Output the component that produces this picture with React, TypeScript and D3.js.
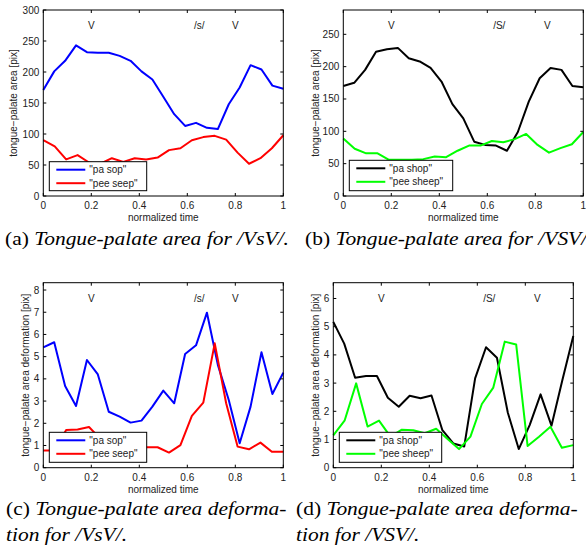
import React from 'react';
import * as d3 from 'd3';

// normalized time ticks shared by all four panels
const timeTicks = [0, 0.2, 0.4, 0.6, 0.8, 1];

// (a) tongue-palate area, /VsV/
const areaPaSop = [171, 201, 218, 243, 232, 231, 231, 226, 218, 201, 188, 160, 132, 113, 118, 110, 108, 148, 175, 211, 204, 178, 173];
const areaPeeSeep = [90, 80, 59, 66, 54, 52, 61, 55, 61, 59, 62, 74, 77, 90, 95, 97, 91, 70, 52, 61, 77, 98];
const areaTicksA = [0, 50, 100, 150, 200, 250, 300];

// (b) tongue-palate area, /VSV/
const areaPaShop = [170, 175, 195, 223, 227, 229, 213, 208, 198, 177, 142, 120, 84, 79, 78, 70, 99, 146, 182, 198, 195, 170, 168];
const areaPeeSheep = [89, 73, 66, 66, 56, 56, 56, 57, 61, 60, 70, 78, 78, 85, 83, 88, 96, 79, 67, 74, 80, 99];
const areaTicksB = [0, 50, 100, 150, 200, 250];

// (c) deformation, /VsV/
const deformPaSop = [5.42, 5.65, 3.68, 2.78, 4.85, 4.2, 2.52, 2.3, 2.03, 2.12, 2.75, 3.47, 2.9, 5.12, 5.51, 6.98, 4.63, 3.05, 1.1, 2.75, 5.2, 3.32, 4.28];
const deformPeeSeep = [0.77, 0.77, 1.7, 1.72, 1.83, 1.3, 1.0, 0.95, 0.9, 0.92, 0.92, 0.68, 1.02, 2.33, 2.93, 5.6, 2.9, 0.95, 0.83, 1.13, 0.72, 0.72];
const deformTicksC = [0, 1, 2, 3, 4, 5, 6, 7, 8];

// (d) deformation, /VSV/
const deformPaShop = [5.17, 4.4, 3.19, 3.25, 3.25, 2.48, 2.16, 2.55, 2.46, 2.56, 1.33, 0.86, 0.75, 3.17, 4.27, 3.9, 1.95, 0.66, 1.51, 2.6, 1.49, 3.11, 4.67];
const deformPeeSheep = [1.15, 1.68, 2.99, 1.46, 1.67, 1.1, 1.35, 1.33, 1.22, 1.38, 1.02, 0.66, 1.1, 2.26, 2.84, 4.47, 4.37, 0.77, 1.1, 1.45, 0.71, 0.8];
const deformTicksD = [0, 1, 2, 3, 4, 5, 6];

const notesS = ['V', '/s/', 'V'];
const notesSPos = [0.2, 0.65, 0.8];
const notesSh = ['V', '/S/', 'V'];
const notesShPos = [0.2, 0.65, 0.85];

const SANS = 'Liberation Sans, Arial, sans-serif';
const SERIF = 'Liberation Serif, Times New Roman, serif';

type Series = { values: number[]; color: string; label: string };

function Panel(props: {
  x0: number; x1: number; y0: number; y1: number;
  yMax: number; yTicks: number[]; yLabel: string; yLabelX: number;
  series: Series[]; notes: string[]; notePos: number[];
  legend: { x: number; y: number; w: number; h: number };
}) {
  const { x0, x1, y0, y1, yMax, yTicks, yLabel, yLabelX, series, notes, notePos, legend } = props;
  const x = d3.scaleLinear().domain([0, 1]).range([x0, x1]);
  const y = d3.scaleLinear().domain([0, yMax]).range([y1, y0]);
  const tk = 3;

  return (
    <g>
      {series.map((s, k) => {
        const n = s.values.length;
        // frames spread evenly over normalized time
        const line = d3.line<number>()
          .x((d, i) => x(i / (n - 1)))
          .y(d => y(d));
        return <path key={k} d={line(s.values) || ''} fill="none" stroke={s.color} strokeWidth={2} strokeLinejoin="round" />;
      })}
      <rect x={x0} y={y0} width={x1 - x0} height={y1 - y0} fill="none" stroke="#000" strokeWidth={1} />
      {timeTicks.map(t => (
        <g key={'xt' + t}>
          <line x1={x(t)} x2={x(t)} y1={y1} y2={y1 - tk} stroke="#000" />
          <line x1={x(t)} x2={x(t)} y1={y0} y2={y0 + tk} stroke="#000" />
          <text x={x(t)} y={y1 + 13} textAnchor="middle" fontFamily={SANS} fontSize={10} fill="#222">{t}</text>
        </g>
      ))}
      {yTicks.map(v => (
        <g key={'yt' + v}>
          <line x1={x0} x2={x0 + tk} y1={y(v)} y2={y(v)} stroke="#000" />
          <line x1={x1} x2={x1 - tk} y1={y(v)} y2={y(v)} stroke="#000" />
          <text x={x0 - 4} y={y(v) + 3.5} textAnchor="end" fontFamily={SANS} fontSize={10} fill="#222">{v}</text>
        </g>
      ))}
      <text x={(x0 + x1) / 2} y={y1 + 25} textAnchor="middle" fontFamily={SANS} fontSize={10} fill="#222">normalized time</text>
      <text transform={`translate(${yLabelX},${(y0 + y1) / 2}) rotate(-90)`} textAnchor="middle" dy="0.35em"
        fontFamily={SANS} fontSize={10} fill="#222">{yLabel}</text>
      {notes.map((s, i) => (
        <text key={'n' + i} x={x(notePos[i])} y={y0 + 19} textAnchor="middle" fontFamily={SANS} fontSize={10} fill="#222">{s}</text>
      ))}
      <rect x={legend.x} y={legend.y} width={legend.w} height={legend.h} fill="#fff" stroke="#000" strokeWidth={1} />
      {series.map((s, k) => {
        const ly = legend.y + 8 + k * 13.5;
        return (
          <g key={'lg' + k}>
            <line x1={legend.x + 7} x2={legend.x + 36} y1={ly} y2={ly} stroke={s.color} strokeWidth={2} />
            <text x={legend.x + 40} y={ly + 3.5} fontFamily={SANS} fontSize={10} fill="#222">{s.label}</text>
          </g>
        );
      })}
    </g>
  );
}

function Caption(props: { x: number; y: number; tag: string; lines: string[] }) {
  return (
    <g transform={`translate(${props.x},${props.y}) scale(1.13,1)`}>
      {props.lines.map((l, i) => (
        <text key={i} x={0} y={i * 26} fontFamily={SERIF} fontSize={19} fill="#000">
          {i === 0 ? <tspan>{props.tag} </tspan> : null}
          <tspan fontStyle="italic">{l}</tspan>
        </text>
      ))}
    </g>
  );
}

export default function App() {
  return (
    <svg width={586} height={550} style={{ position: 'absolute', left: 0, top: 0, background: '#fff' }}>
      <rect width={586} height={550} fill="#fff" />
      <Panel x0={43.3} x1={283.3} y0={10} y1={196} yMax={300} yTicks={areaTicksA}
        yLabel="tongue−palate area [pix]" yLabelX={13.5}
        series={[{ values: areaPaSop, color: '#0000ff', label: '"pa sop"' }, { values: areaPeeSeep, color: '#ff0000', label: '"pee seep"' }]}
        notes={notesS} notePos={notesSPos} legend={{ x: 49.3, y: 161.7, w: 97.4, h: 29 }} />
      <Panel x0={343.3} x1={583.3} y0={10} y1={196} yMax={287.6} yTicks={areaTicksB}
        yLabel="tongue−palate area [pix]" yLabelX={315}
        series={[{ values: areaPaShop, color: '#000000', label: '"pa shop"' }, { values: areaPeeSheep, color: '#00ff00', label: '"pee sheep"' }]}
        notes={notesSh} notePos={notesShPos} legend={{ x: 349.3, y: 160.3, w: 103.4, h: 30.4 }} />
      <Panel x0={43.3} x1={283.3} y0={282.7} y1={467.7} yMax={8.33} yTicks={deformTicksC}
        yLabel="tongue−palate area deformation [pix]" yLabelX={25}
        series={[{ values: deformPaSop, color: '#0000ff', label: '"pa sop"' }, { values: deformPeeSeep, color: '#ff0000', label: '"pee seep"' }]}
        notes={notesS} notePos={notesSPos} legend={{ x: 49.3, y: 432.3, w: 97.4, h: 30 }} />
      <Panel x0={333.3} x1={573.3} y0={282.7} y1={467.7} yMax={6.56} yTicks={deformTicksD}
        yLabel="tongue−palate area deformation [pix]" yLabelX={315}
        series={[{ values: deformPaShop, color: '#000000', label: '"pa shop"' }, { values: deformPeeSheep, color: '#00ff00', label: '"pee sheep"' }]}
        notes={notesSh} notePos={notesShPos} legend={{ x: 339.3, y: 432.3, w: 102.4, h: 30 }} />
      <Caption x={5} y={245} tag="(a)" lines={['Tongue-palate area for /VsV/.']} />
      <Caption x={305} y={245} tag="(b)" lines={['Tongue-palate area for /VSV/.']} />
      <Caption x={6} y={515} tag="(c)" lines={['Tongue-palate area deforma-', 'tion for /VsV/.']} />
      <Caption x={296} y={515} tag="(d)" lines={['Tongue-palate area deforma-', 'tion for /VSV/.']} />
    </svg>
  );
}
